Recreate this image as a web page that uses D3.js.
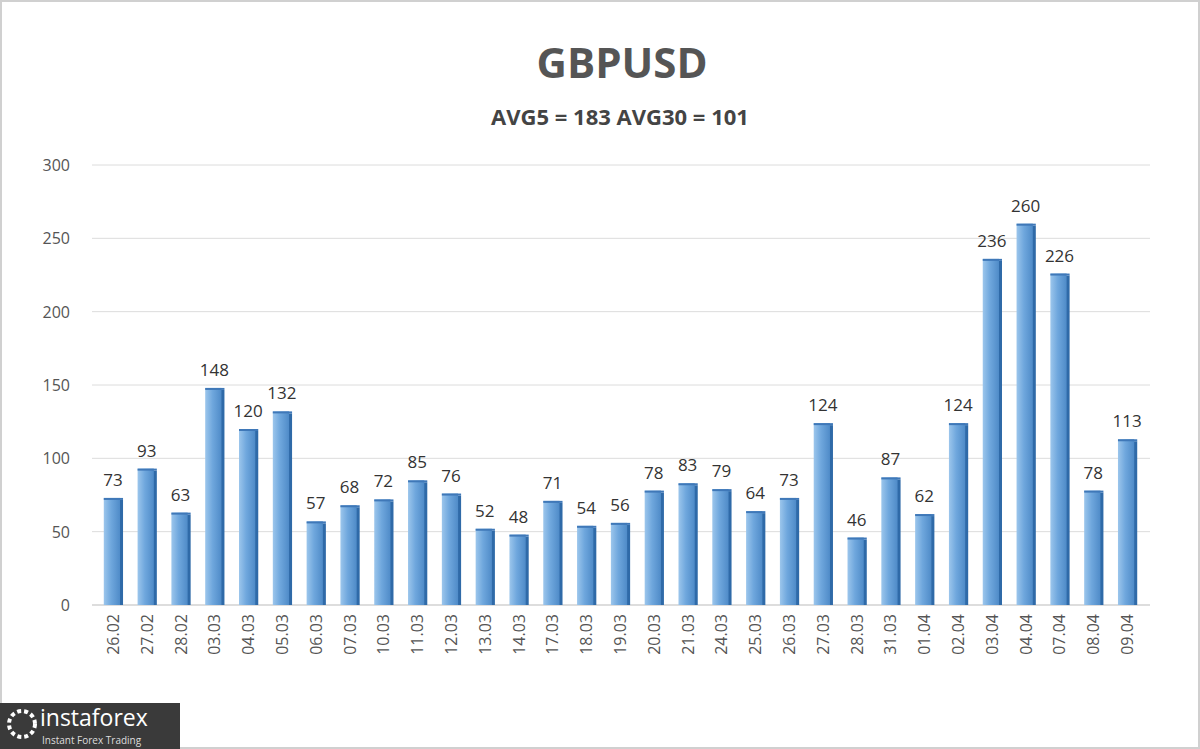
<!DOCTYPE html>
<html><head><meta charset="utf-8">
<script src="https://cdn.jsdelivr.net/npm/d3@7"></script>
<style>body{margin:0;background:#fff}svg{display:block}</style>
</head><body>
<svg id="chart" width="1200" height="749"></svg>
<script>
var dates=["26.02","27.02","28.02","03.03","04.03","05.03","06.03","07.03","10.03","11.03","12.03","13.03","14.03","17.03","18.03","19.03","20.03","21.03","24.03","25.03","26.03","27.03","28.03","31.03","01.04","02.04","03.04","04.04","07.04","08.04","09.04"];
var values=[73,93,63,148,120,132,57,68,72,85,76,52,48,71,54,56,78,83,79,64,73,124,46,87,62,124,236,260,226,78,113];
var yTicks=[0,50,100,150,200,250,300];

var svg=d3.select("#chart");
svg.append("rect").attr("x",1).attr("y",1).attr("width",1198).attr("height",747)
  .attr("fill","#fff").attr("stroke","#d0d0d0").attr("stroke-width",2);

var defs=svg.append("defs");
var g1=defs.append("linearGradient").attr("id","bar").attr("x1","0").attr("x2","1");
g1.append("stop").attr("offset","0").attr("stop-color","#9cc6ec");
g1.append("stop").attr("offset","0.45").attr("stop-color","#6fa7dd");
g1.append("stop").attr("offset","1").attr("stop-color","#4f8bc8");

var x=d3.scaleBand().domain(dates).range([96,1144]).paddingInner(0.46).paddingOuter(0.23);
var y=d3.scaleLinear().domain([0,300]).range([605,165]);

svg.append("text").attr("x",622).attr("y",78).attr("text-anchor","middle")
  .attr("font-family","Open Sans, sans-serif").attr("font-weight","bold").attr("font-size",42)
  .attr("fill","#555").text("GBPUSD");
svg.append("text").attr("x",620).attr("y",125).attr("text-anchor","middle")
  .attr("font-family","Open Sans, sans-serif").attr("font-weight","bold").attr("font-size",22)
  .attr("fill","#444").text("AVG5 = 183 AVG30 = 101");

svg.append("g").selectAll("line").data(yTicks).join("line")
  .attr("x1",92).attr("x2",1150).attr("y1",d=>y(d)).attr("y2",d=>y(d))
  .attr("stroke",d=>d===0?"#bbb":"#dcdcdc").attr("stroke-width",1);
svg.append("g").selectAll("text").data(yTicks).join("text")
  .attr("x",70).attr("y",d=>y(d)+6).attr("text-anchor","end")
  .attr("font-family","Open Sans, sans-serif").attr("font-size",16).attr("fill","#555").text(d=>d);

var bw=x.bandwidth();
var bars=svg.append("g").selectAll("g").data(values).join("g");
bars.append("rect").attr("x",(d,i)=>x(dates[i])+bw-3).attr("y",d=>y(d)+2)
  .attr("width",4).attr("height",d=>605-y(d)-2).attr("fill","#2f6aa8");
bars.append("rect").attr("x",(d,i)=>x(dates[i])).attr("y",d=>y(d))
  .attr("width",bw-2).attr("height",d=>605-y(d)).attr("fill","url(#bar)");
bars.append("rect").attr("x",(d,i)=>x(dates[i])).attr("y",d=>y(d))
  .attr("width",bw+1).attr("height",2).attr("fill","#3f78b8");
bars.append("text").attr("x",(d,i)=>x(dates[i])+bw/2).attr("y",d=>y(d)-12)
  .attr("text-anchor","middle").attr("font-family","Open Sans, sans-serif")
  .attr("font-size",17).attr("fill","#333").text(d=>d);

svg.append("g").selectAll("text").data(dates).join("text")
  .attr("transform",d=>"translate("+(x(d)+bw/2+6)+",614) rotate(-90)")
  .attr("text-anchor","end").attr("font-family","Open Sans, sans-serif")
  .attr("font-size",16).attr("fill","#555").text(d=>d);

var logo=svg.append("g");
logo.append("rect").attr("x",0).attr("y",703).attr("width",180).attr("height",46).attr("fill","#3a3a3a");
logo.append("circle").attr("cx",22).attr("cy",724).attr("r",13).attr("fill","none").attr("stroke","#fff").attr("stroke-width",4).attr("stroke-dasharray","4 3");
logo.append("text").attr("x",40).attr("y",726).attr("font-family","Open Sans, sans-serif")
  .attr("font-size",23).attr("fill","#fff").text("instaforex");
logo.append("text").attr("x",42).attr("y",744).attr("font-family","Open Sans, sans-serif")
  .attr("font-size",10).attr("fill","#ddd").text("Instant Forex Trading");
</script>
</body></html>
